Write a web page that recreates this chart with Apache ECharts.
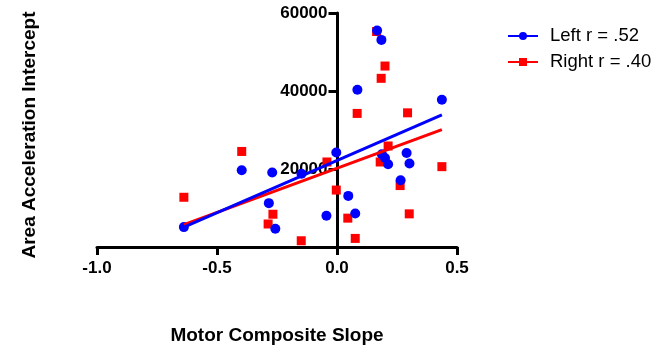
<!DOCTYPE html>
<html>
<head>
<meta charset="utf-8">
<script src="https://cdn.jsdelivr.net/npm/echarts@6/dist/echarts.min.js"></script>
<style>html,body{margin:0;padding:0;background:#fff}#c{width:665px;height:350px}</style>
</head>
<body>
<div id="c"></div>
<script>
var xTicks = [-1.0, -0.5, 0.0, 0.5];
var yTicks = [20000, 40000, 60000];
var leftX = [0.167, 0.185, 0.085, 0.437, -0.397, -0.27, -0.284, -0.257, -0.638, -0.003, 0.29, 0.187, 0.2, 0.213, 0.302, -0.148, 0.265, 0.047, -0.044, 0.076];
var leftY = [55500, 53100, 40300, 37750, 19700, 19100, 11250, 4700, 5100, 24250, 24100, 23800, 22800, 21200, 21400, 18800, 17100, 13100, 8000, 8600];
var rightX = [0.165, 0.2, 0.184, 0.084, 0.294, -0.397, -0.638, -0.267, -0.287, 0.213, 0.18, 0.437, -0.042, 0.263, -0.003, 0.045, 0.301, -0.149, 0.076];
var rightY = [55250, 46400, 43250, 34250, 34400, 24500, 12750, 8400, 5900, 25900, 21800, 20600, 21800, 15750, 14600, 7400, 8500, 1600, 2200];
var leftFitX = [-0.638, 0.437];
var leftFitY = [5100, 33900];
var rightFitX = [-0.638, 0.437];
var rightFitY = [5750, 30100];
var leftName = 'Left r = .52';
var rightName = 'Right r = .40';

function zip(a, b) { return a.map(function (v, i) { return [v, b[i]]; }); }

var chart = echarts.init(document.getElementById('c'), null, {renderer: 'canvas'});
var font = 'Liberation Sans, Arial, sans-serif';
chart.setOption({
  animation: false,
  backgroundColor: '#fff',
  grid: {left: 97, right: 208, top: 13, bottom: 96, containLabel: false},
  legend: {
    orient: 'vertical', left: 502, top: 21, itemWidth: 30, itemHeight: 10, itemGap: 6,
    data: [leftName, rightName],
    textStyle: {fontFamily: font, fontSize: 18.5, color: '#000', lineHeight: 20, padding: [0, 0, 0, 7]}
  },
  xAxis: {
    type: 'value', min: -1.0, max: 0.5, interval: 0.5,
    name: 'Motor Composite Slope', nameLocation: 'middle', nameGap: 79,
    nameTextStyle: {fontFamily: font, fontSize: 19, fontWeight: 'bold', color: '#000'},
    axisLine: {onZero: false, lineStyle: {color: '#000', width: 3}},
    axisTick: {show: true, length: 8, lineStyle: {color: '#000', width: 3}},
    axisLabel: {fontFamily: font, fontSize: 17, fontWeight: 'bold', color: '#000', margin: 13,
      customValues: xTicks,
      formatter: function (v) { return v.toFixed(1); }},
    splitLine: {show: false}
  },
  yAxis: {
    type: 'value', min: 0, max: 60000, interval: 20000, position: 'left', offset: -240.5,
    axisLine: {onZero: false, lineStyle: {color: '#000', width: 3}},
    axisTick: {show: true, length: 9, lineStyle: {color: '#000', width: 3}, customValues: yTicks},
    axisLabel: {fontFamily: font, fontSize: 17, fontWeight: 'bold', color: '#000', margin: 10,
      customValues: yTicks,
      formatter: function (v) { return v === 0 ? '' : String(v); }},
    splitLine: {show: false}
  },
  graphic: [{
    type: 'text', x: 30, y: 135, rotation: Math.PI / 2,
    style: {text: 'Area Acceleration Intercept', font: 'bold 19px ' + font, fill: '#000', align: 'center', verticalAlign: 'middle'}
  }],
  series: [
    {type: 'scatter', name: 'rightPts', data: zip(rightX, rightY), symbol: 'rect', symbolSize: 9,
      itemStyle: {color: '#ff0000', opacity: 1}, z: 3},
    {type: 'scatter', name: 'leftPts', data: zip(leftX, leftY), symbol: 'circle', symbolSize: 10,
      itemStyle: {color: '#0000ff', opacity: 1}, z: 4},
    {type: 'line', name: rightName, data: zip(rightFitX, rightFitY), symbol: 'rect', symbolSize: 9, showSymbol: false,
      lineStyle: {color: '#ff0000', width: 3}, itemStyle: {color: '#ff0000'}, z: 5},
    {type: 'line', name: leftName, data: zip(leftFitX, leftFitY), symbol: 'circle', symbolSize: 10, showSymbol: false,
      lineStyle: {color: '#0000ff', width: 3}, itemStyle: {color: '#0000ff'}, z: 6}
  ]
});
</script>
</body>
</html>
